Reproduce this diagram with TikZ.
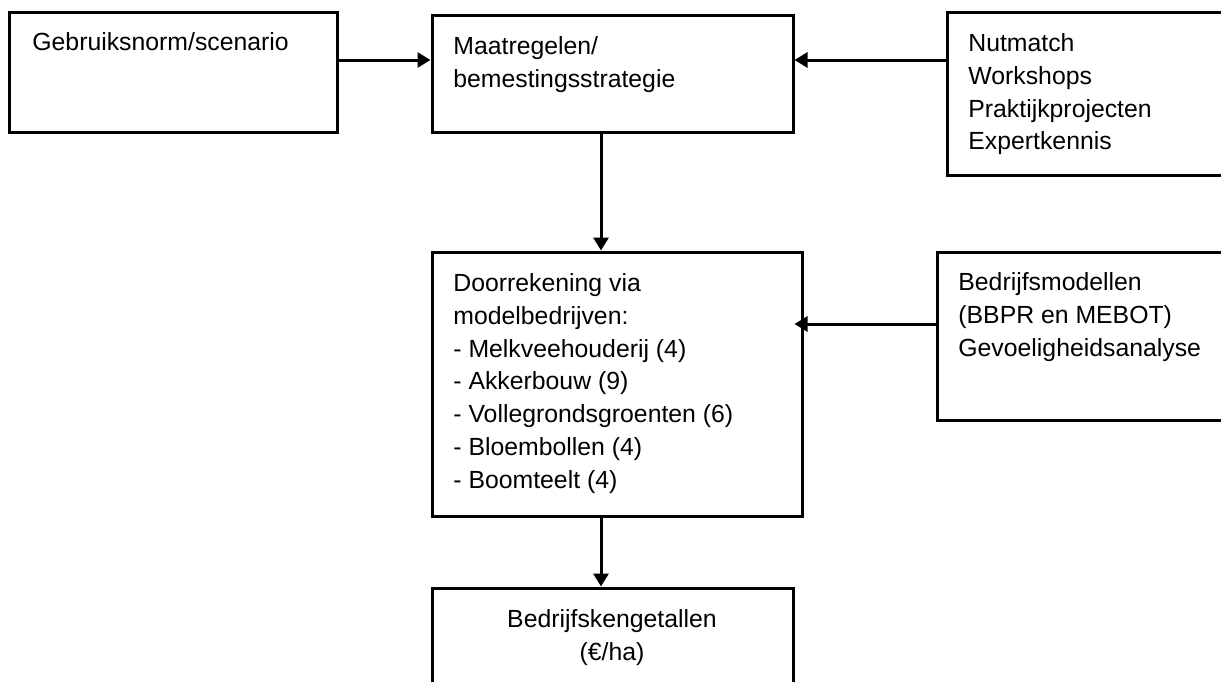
\documentclass[tikz,border=0pt]{standalone}
\usepackage{fontspec}
\setmainfont{Liberation Sans}
\usetikzlibrary{arrows.meta}
\newcommand{\firstline}{\rule{0pt}{10pt}}
\begin{document}
\begin{tikzpicture}[x=0.5pt,y=-0.5pt,
  box/.style={draw=black,line width=1.5pt,rectangle,inner sep=0pt},
  txt/.style={inner sep=0pt,align=left,anchor=north west,font=\fontsize{12.4pt}{16.4pt}\selectfont},
  arr/.style={line width=1.5pt,-{Triangle[length=6.5pt,width=7.5pt]}}]
\useasboundingbox (0,0) rectangle (1221,681);
\clip (0,0) rectangle (1221,681);
% boxes
\node[box,minimum width=164pt,minimum height=60pt] (A) at (173,72) {};
\node[box,minimum width=180.5pt,minimum height=58.5pt] (B) at (612.5,73.5) {};
\node[box,minimum width=146.5pt,minimum height=81.5pt] (C) at (1093.5,93.5) {};
\node[box,minimum width=185pt,minimum height=132pt] (D) at (617,384) {};
\node[box,minimum width=151.5pt,minimum height=84pt] (E) at (1088.5,336) {};
\node[box,minimum width=180.5pt,minimum height=56pt] (F) at (612.5,644) {};
% texts (top = first baseline - 20px)
\node[txt] (tA) at (32,30) {\firstline Gebruiksnorm/scenario};
\node[txt] (tB) at (453,34) {\firstline Maatregelen/\\bemestingsstrategie};
\node[txt] (tC) at (968,31) {\firstline Nutmatch\\Workshops\\Praktijkprojecten\\Expertkennis};
\node[txt] (tD) at (453,271) {\firstline Doorrekening via\\modelbedrijven:\\- Melkveehouderij (4)\\- Akkerbouw (9)\\- Vollegrondsgroenten (6)\\- Bloembollen (4)\\- Boomteelt (4)};
\node[txt] (tE) at (958,270) {\firstline Bedrijfsmodellen\\(BBPR en MEBOT)\\Gevoeligheidsanalyse};
\node[txt,align=center,anchor=north] (tF) at (612,607) {\firstline Bedrijfskengetallen\\(€/ha)};
% connectors
\draw[arr] (A.east |- 0,60) -- (B.west |- 0,60);
\draw[arr] (C.west |- 0,60) -- (B.east |- 0,60);
\draw[arr] (B.south -| 601,0) -- (D.north -| 601,0);
\draw[arr,shorten >=-4.5pt] (E.west |- 0,324) -- (D.east |- 0,324);
\draw[arr] (D.south -| 601,0) -- (F.north -| 601,0);
\end{tikzpicture}
\end{document}
